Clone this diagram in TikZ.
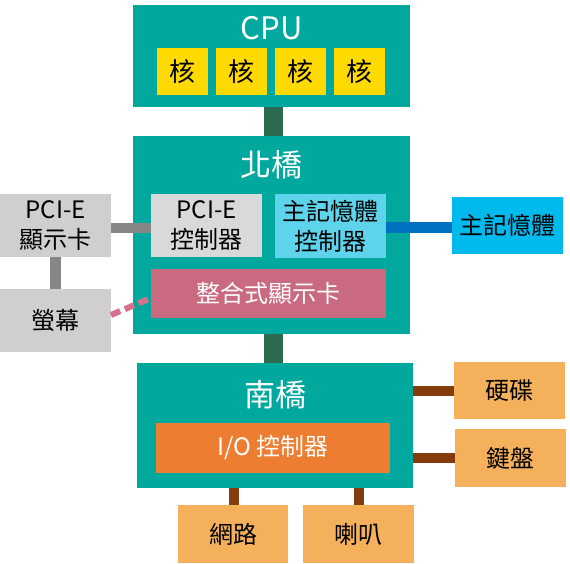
\documentclass[tikz,border=0pt]{standalone}
\usepackage{fontspec}
\setmainfont{Noto Sans CJK TC}
\begin{document}
\begin{tikzpicture}[x=1pt,y=-1pt,
  box/.style={rectangle,inner sep=0pt,outer sep=0pt,align=center},
  chip/.style={box,fill=teal0},
  title/.style={text=white,font=\fontsize{31}{35}\selectfont},
  label/.style={font=\fontsize{24}{30}\selectfont},
  core/.style={box,fill=coreyellow,minimum width=51,minimum height=47,font=\fontsize{26}{30}\selectfont},
  greybox/.style={box,fill=greyout,minimum width=111,minimum height=63,label},
  periph/.style={box,fill=periorange,label},
  bus/.style={draw=busgreen,line width=19pt},
  pciwire/.style={draw=wiregrey,line width=10pt},
  iowire/.style={draw=iobrown,line width=10pt},
]
\definecolor{teal0}{RGB}{0,168,157}
\definecolor{coreyellow}{RGB}{255,218,0}
\definecolor{busgreen}{RGB}{43,106,79}
\definecolor{greyout}{RGB}{208,206,206}
\definecolor{greyin}{RGB}{217,217,217}
\definecolor{wiregrey}{RGB}{134,134,134}
\definecolor{memctl}{RGB}{93,211,236}
\definecolor{memblue}{RGB}{0,186,238}
\definecolor{wireblue}{RGB}{0,112,192}
\definecolor{igpupink}{RGB}{201,106,128}
\definecolor{dashpink}{RGB}{214,112,140}
\definecolor{ioorange}{RGB}{237,125,49}
\definecolor{periorange}{RGB}{244,176,90}
\definecolor{iobrown}{RGB}{132,60,12}

\useasboundingbox (0,0) rectangle (570,563);
\coordinate (busx) at (273.5,0);

% CPU with four cores
\node[chip,minimum width=277,minimum height=102] (cpu) at (271.5,56) {};
\node[title] (cputitle) at (271.5,28) {CPU};
\node[core] (c1) at (182,71.5) {核};
\node[core] (c2) at (241,71.5) {核};
\node[core] (c3) at (300,71.5) {核};
\node[core] (c4) at (359,71.5) {核};

% North bridge
\node[chip,minimum width=277,minimum height=198] (nb) at (271.5,235) {};
\node[title] (nbtitle) at (271.5,165) {北橋};
\node[box,fill=greyin,minimum width=111,minimum height=63,label] (pcictl) at (206.5,225.5) {PCI-E\\控制器};
\node[box,fill=memctl,minimum width=111,minimum height=64,label] (memctlr) at (330.5,226) {主記憶體\\控制器};
\node[box,fill=igpupink,minimum width=235,minimum height=49,label,text=white] (igpu) at (268.5,293.5) {整合式顯示卡};

% Graphics card and monitor
\node[greybox] (pcicard) at (55.5,225.5) {PCI-E\\顯示卡};
\node[greybox] (monitor) at (55.5,320.5) {螢幕};

% Main memory
\node[box,fill=memblue,minimum width=111,minimum height=57,label] (mem) at (507.5,225.5) {主記憶體};

% South bridge
\node[chip,minimum width=276,minimum height=125] (sb) at (275,425.5) {};
\node[title] (sbtitle) at (275,395) {南橋};
\node[box,fill=ioorange,minimum width=234,minimum height=50,label,text=white] (ioctl) at (273,448) {I/O 控制器};

% Peripherals
\node[periph,minimum width=111,minimum height=57] (hdd) at (509.5,390.5) {硬碟};
\node[periph,minimum width=111,minimum height=58] (kbd) at (510.5,458) {鍵盤};
\node[periph,minimum width=110,minimum height=58] (net) at (233,534) {網路};
\node[periph,minimum width=111,minimum height=58] (spk) at (358.5,534) {喇叭};

% Buses
\draw[bus] (cpu.south -| busx) -- (nb.north -| busx);
\draw[bus] (nb.south -| busx) -- (sb.north -| busx);

% Graphics links
\draw[pciwire] ([yshift=-2.5pt]pcicard.east) -- ([yshift=-2.5pt]pcictl.west);
\draw[pciwire,line width=11pt] (pcicard.south) -- (monitor.north);
\draw[draw=dashpink,line width=6pt,dash pattern=on 10pt off 5pt]
  ([yshift=5.5pt]monitor.east) -- ([yshift=-4.5pt]igpu.west);

% Memory link
\draw[draw=wireblue,line width=11pt] ([yshift=-1.5pt]memctlr.east) -- ([yshift=-2pt]mem.west);

% I/O links
\draw[iowire] (sb.east |- hdd.west) -- (hdd.west);
\draw[iowire] (sb.east |- kbd.west) -- (kbd.west);
\draw[iowire] ([xshift=0.5pt]net.north) -- ([xshift=0.5pt]sb.south -| net.north);
\draw[iowire] (spk.north) -- (sb.south -| spk.north);
\end{tikzpicture}
\end{document}
